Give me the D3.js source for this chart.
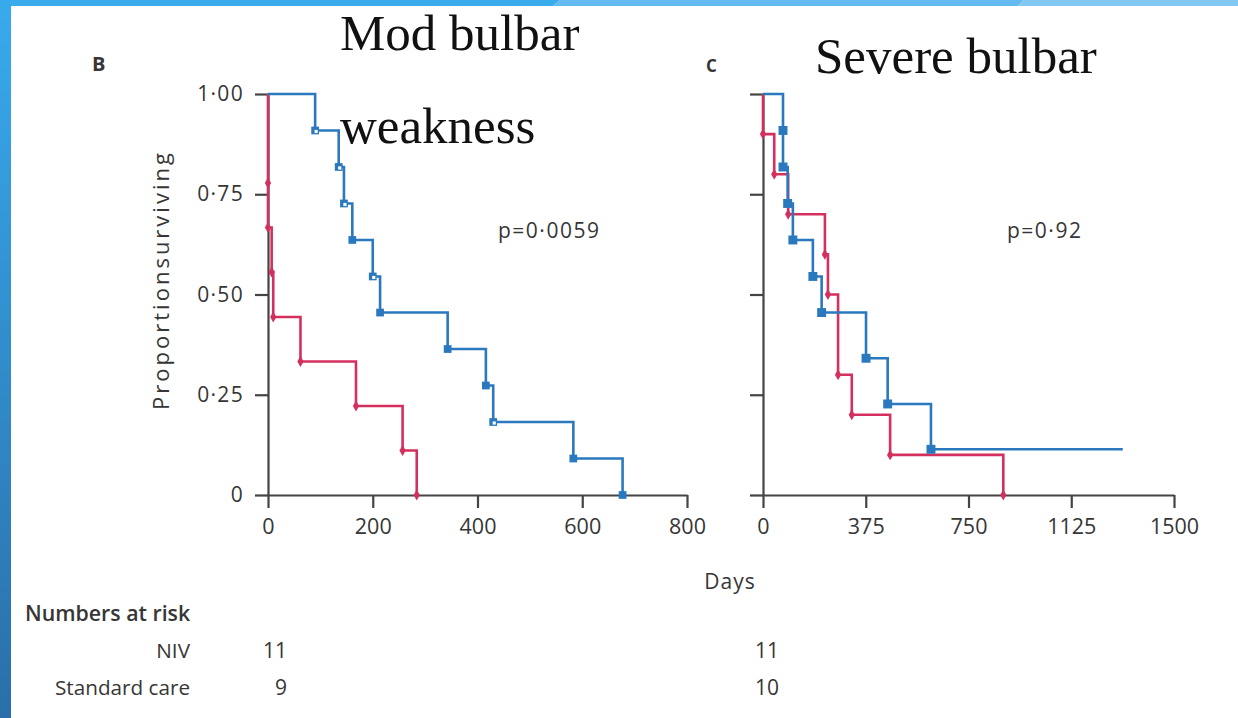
<!DOCTYPE html>
<html>
<head>
<meta charset="utf-8">
<script src="https://cdn.jsdelivr.net/npm/d3@7"></script>
<style>
  html, body { margin: 0; padding: 0; background: #fff; }
  svg text { font-family: "Open Sans", "DejaVu Sans", sans-serif; fill: #363636; }
  .serif { font-family: "Liberation Serif", "Times New Roman", serif !important; fill: #111 !important; }
</style>
</head>
<body>
<div id="chart"></div>
<script>
"use strict";

// Panel B: moderate bulbar weakness (days, proportion surviving)
const bNivDays = [0, 90, 135, 145, 161, 200, 214, 343, 416, 430, 583, 677];
const bNivSurv = [1, 0.909, 0.818, 0.727, 0.636, 0.545, 0.455, 0.364, 0.273, 0.182, 0.091, 0];
const bNivOpen = [90, 135, 145, 200, 430];
const bStdDays = [0, 0, 0, 7, 10, 62, 168, 257, 284];
const bStdSurv = [1, 0.778, 0.667, 0.556, 0.444, 0.333, 0.222, 0.111, 0];

// Panel C: severe bulbar weakness
const cNivDays = [0, 73, 73, 90, 109, 182, 214, 376, 455, 613, 1313];
const cNivSurv = [1, 0.909, 0.818, 0.727, 0.636, 0.545, 0.455, 0.341, 0.227, 0.114, 0.114];
const cStdDays = [0, 0, 41, 92, 226, 237, 274, 324, 464, 877];
const cStdSurv = [1, 0.9, 0.8, 0.7, 0.6, 0.5, 0.3, 0.2, 0.1, 0];

const yTicks = [0, 0.25, 0.5, 0.75, 1];
const bXTicks = [0, 200, 400, 600, 800];
const cXTicks = [0, 375, 750, 1125, 1500];

const riskGroups = ["NIV", "Standard care"];
const bAtRisk = [11, 9];
const cAtRisk = [11, 10];
const pValues = ["p=0·0059", "p=0·92"];

const W = 1238, H = 718;
const blue = "#2a79be", red = "#d3305e", axisColor = "#444";

const svg = d3.select("#chart").append("svg")
    .attr("width", W).attr("height", H);

// slide frame
const defs = svg.append("defs");
const lg = defs.append("linearGradient").attr("id", "side").attr("x1", 0).attr("y1", 0).attr("x2", 0).attr("y2", 1);
lg.append("stop").attr("offset", 0).attr("stop-color", "#38aaec");
lg.append("stop").attr("offset", 1).attr("stop-color", "#2a6fa9");
svg.append("rect").attr("width", W).attr("height", H).attr("fill", "#fff");
svg.append("polygon").attr("points", "0,0 560,0 553,6 0,6").attr("fill", "#3aabeb");
svg.append("polygon").attr("points", "560,0 1024,0 1018,6 553,6").attr("fill", "#63baef");
svg.append("polygon").attr("points", "1024,0 1238,0 1238,6 1018,6").attr("fill", "#81c9f2");
svg.append("rect").attr("x", 0).attr("y", 0).attr("width", 11).attr("height", H).attr("fill", "url(#side)");

const y = d3.scaleLinear().domain([0, 1]).range([495, 94]);
const xB = d3.scaleLinear().domain([0, 800]).range([268, 687]);
const xC = d3.scaleLinear().domain([0, 1500]).range([763, 1174]);

const fmtY = d => d === 0 ? "0" : d.toFixed(2).replace(".", "·");

const drawAxes = (x, ticks, showY) => {
    const gy = svg.append("g").attr("transform", `translate(${x.range()[0]},0)`)
        .call(d3.axisLeft(y).tickValues(yTicks).tickSize(13).tickSizeOuter(0).tickPadding(11)
            .tickFormat(showY ? fmtY : ""));
    const gx = svg.append("g").attr("transform", `translate(0,${y(0)})`)
        .call(d3.axisBottom(x).tickValues(ticks).tickSize(13).tickSizeOuter(0).tickPadding(11)
            .tickFormat(d3.format("d")));
    [gx, gy].forEach(g => {
        g.selectAll("path, line").attr("stroke", axisColor).attr("stroke-width", 2.2);
        g.selectAll("text").attr("font-size", 21.5).attr("fill", "#363636")
            .style("font-family", "'Open Sans', sans-serif");
    });
    gy.selectAll("text").attr("font-size", 21).attr("letter-spacing", 1.3);
};

const drawCurve = (x, days, surv, color, markers, mSize, openDays) => {
    const pts = days.map((d, i) => [x(d), y(surv[i])]);
    svg.append("path")
        .attr("d", d3.line().curve(d3.curveStepAfter)(pts))
        .attr("fill", "none").attr("stroke", color).attr("stroke-width", 2.6);
    const marks = pts.slice(1).filter((p, i) => !(i === pts.length - 2 && surv[i + 1] === surv[i]));
    const mdays = days.slice(1);
    marks.forEach((p, i) => {
        if (markers === "square") {
            svg.append("path").attr("transform", `translate(${p[0]},${p[1]})`)
                .attr("d", d3.symbol(d3.symbolSquare, mSize)()).attr("fill", color);
            if (openDays && openDays.includes(mdays[i])) {
                svg.append("path").attr("transform", `translate(${p[0] + 1},${p[1] + 1})`)
                    .attr("d", d3.symbol(d3.symbolSquare, 10)()).attr("fill", "#fff");
            }
        } else {
            svg.append("path").attr("transform", `translate(${p[0]},${p[1]})`)
                .attr("d", d3.symbol(d3.symbolDiamond, mSize)()).attr("fill", color);
        }
    });
};

drawAxes(xB, bXTicks, true);
drawAxes(xC, cXTicks, false);

drawCurve(xB, bStdDays, bStdSurv, red, "diamond", 34);
drawCurve(xB, bNivDays, bNivSurv, blue, "square", 60, bNivOpen);
drawCurve(xC, cStdDays, cStdSurv, red, "diamond", 34);
drawCurve(xC, cNivDays, cNivSurv, blue, "square", 80);

// labels
svg.append("text").attr("x", 92).attr("y", 71).attr("font-size", 20).attr("font-weight", "bold").text("B");
svg.append("text").attr("x", 706).attr("y", 72).attr("font-size", 17).attr("font-weight", "bold").text("C");

svg.append("text").attr("class", "serif").attr("x", 340).attr("y", 50).attr("font-size", 51).text("Mod bulbar");
svg.append("text").attr("class", "serif").attr("x", 340).attr("y", 143).attr("font-size", 51).text("weakness");
svg.append("text").attr("class", "serif").attr("x", 815).attr("y", 73).attr("font-size", 51).text("Severe bulbar");

svg.append("text").attr("transform", "translate(169,280) rotate(-90)")
    .attr("text-anchor", "middle").attr("font-size", 22).attr("letter-spacing", 3).text("Proportionsurviving");

svg.append("text").attr("x", 498).attr("y", 238).attr("font-size", 21).attr("letter-spacing", 1.5).text(pValues[0]);
svg.append("text").attr("x", 1007).attr("y", 238).attr("font-size", 21).attr("letter-spacing", 1.5).text(pValues[1]);

svg.append("text").attr("x", 730).attr("y", 589).attr("text-anchor", "middle").attr("font-size", 21).attr("letter-spacing", 1).text("Days");

svg.append("text").attr("x", 25).attr("y", 621).attr("font-size", 21.3).attr("font-weight", 600).text("Numbers at risk");
riskGroups.forEach((g, i) => {
    const yy = 658 + i * 37;
    svg.append("text").attr("x", 190).attr("y", yy).attr("text-anchor", "end").attr("font-size", 20.7).text(g);
    svg.append("text").attr("x", xB(0) + 19).attr("y", yy).attr("text-anchor", "end").attr("font-size", 21).text(bAtRisk[i]);
    svg.append("text").attr("x", xC(0) + 16).attr("y", yy).attr("text-anchor", "end").attr("font-size", 21).text(cAtRisk[i]);
});
</script>
</body>
</html>
